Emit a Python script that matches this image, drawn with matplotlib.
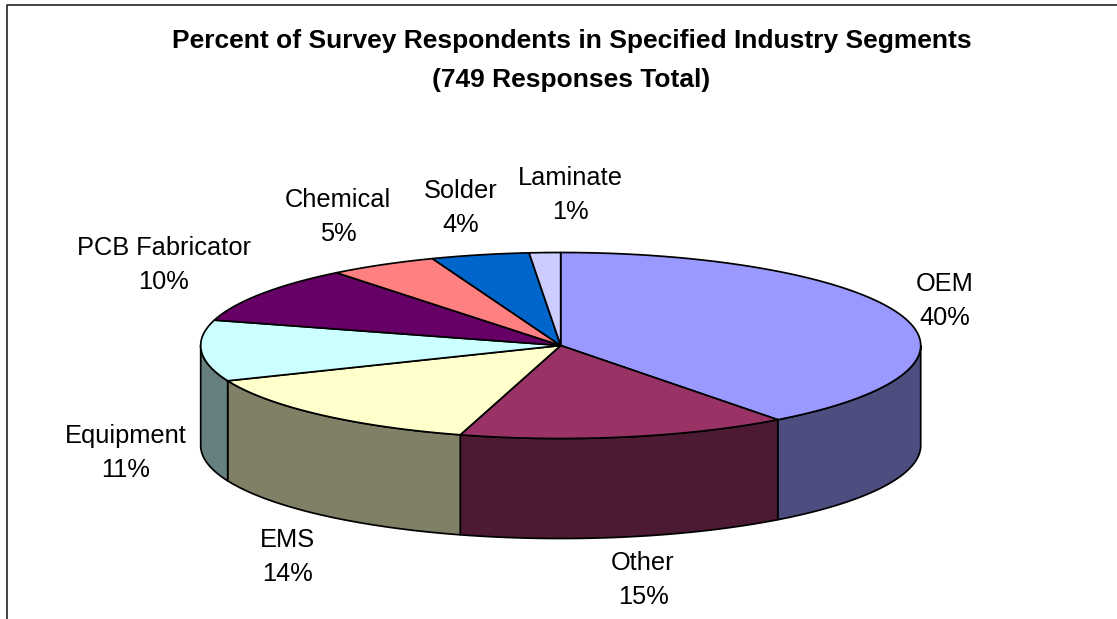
import numpy as np
import matplotlib
matplotlib.use("Agg")
import matplotlib.pyplot as plt

# slices, clockwise from 12 o'clock
segments = ["OEM", "Other", "EMS", "Equipment", "PCB Fabricator", "Chemical", "Solder", "Laminate"]
shares = [39.7, 14.8, 14.3, 10.6, 9.9, 4.9, 4.4, 1.4]
percent_labels = ["40%", "15%", "14%", "11%", "10%", "5%", "4%", "1%"]
title_lines = ["Percent of Survey Respondents in Specified Industry Segments", "(749 Responses Total)"]

top_colors = ["#9999FF", "#993366", "#FFFFCC", "#CCFFFF", "#660066", "#FF8080", "#0066CC", "#CCCCFF"]
side_colors = ["#4D4D80", "#4D1A33", "#808066", "#668080", "#330033", "#804040", "#003366", "#666680"]

# label baselines in pixels (name line, percent line is 34 below)
label_xy = [(945, 291), (643, 570), (287, 547), (126, 443), (164, 255), (338, 207), (461, 198), (570, 185)]

cx, cy, rx, ry, depth = 560.7, 345.5, 360, 93, 100
edge = 1.25

plt.rcParams['font.family'] = ['Liberation Sans', 'DejaVu Sans']
fig = plt.figure(figsize=(11.17, 6.19), dpi=100)
ax = fig.add_axes([0, 0, 1, 1])
ax.set_xlim(0, 1117)
ax.set_ylim(619, 0)
ax.axis("off")


def rim(a, b):
    th = np.radians(np.linspace(a, b, 200))
    return cx + rx * np.sin(th), cy - ry * np.cos(th)


# chart frame, only top and left are in the crop
ax.plot([1117, 7, 7], [5, 5, 619], color="#222222", lw=1.2)

ends = np.cumsum(shares) / np.sum(shares) * 360
starts = np.concatenate([[0], ends[:-1]])

# side walls first, only the front half of the rim shows
for a, b, col in zip(starts, ends, side_colors):
    a2, b2 = max(a, 90), min(b, 270)
    if b2 <= a2:
        continue
    x, y = rim(a2, b2)
    ax.fill(np.r_[x, x[::-1]], np.r_[y, y[::-1] + depth], facecolor=col, edgecolor="black", lw=edge, joinstyle="round")

for a, b, col in zip(starts, ends, top_colors):
    x, y = rim(a, b)
    ax.fill(np.r_[cx, x], np.r_[cy, y], facecolor=col, edgecolor="black", lw=edge, joinstyle="round")

for name, pct, (x, y) in zip(segments, percent_labels, label_xy):
    ax.text(x, y, name, fontsize=18.3, ha="center", va="baseline")
    ax.text(x, y + 34, pct, fontsize=18.3, ha="center", va="baseline")

ax.text(571.5, 48, title_lines[0], fontsize=19, fontweight="bold", ha="center", va="baseline")
ax.text(571.5, 87, title_lines[1], fontsize=19, fontweight="bold", ha="center", va="baseline")

fig.savefig("out.png", dpi=100)
